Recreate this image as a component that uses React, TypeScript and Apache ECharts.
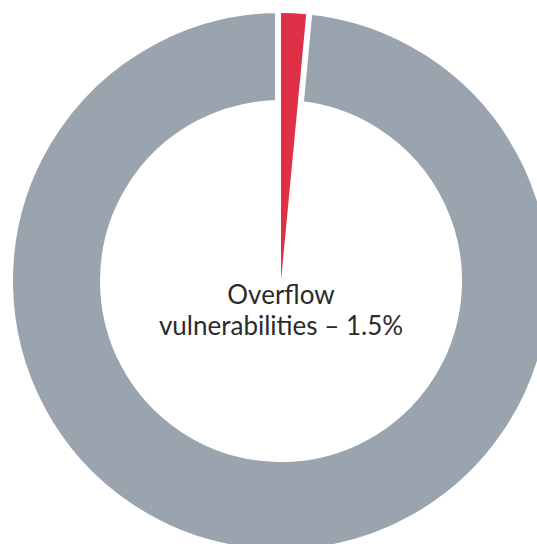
import React, { useEffect, useRef } from "react";
import * as echarts from "echarts";

const categories = ["Overflow vulnerabilities", "Other"];
const values = [1.5, 98.5];
const labelLines = ["Overflow", "vulnerabilities – 1.5%"];

export default function App() {
  const ref = useRef<HTMLDivElement>(null);
  useEffect(() => {
    if (!ref.current) return;
    const chart = echarts.init(ref.current, null, { renderer: "svg" });
    const cx = 281;
    const cy = 281;
    chart.setOption({
      animation: false,
      backgroundColor: "#ffffff",
      series: [
        {
          type: "pie",
          silent: true,
          z: 1,
          center: [cx, cy],
          radius: [175, 274],
          startAngle: 90,
          clockwise: true,
          label: { show: false },
          labelLine: { show: false },
          data: [
            { name: categories[0], value: values[0], itemStyle: { color: "rgba(0,0,0,0)", borderWidth: 0 } },
            { name: categories[1], value: values[1], itemStyle: { color: "#99a4ae", borderColor: "#ffffff", borderWidth: 12 } },
          ],
        },
        {
          type: "pie",
          silent: true,
          z: 2,
          center: [cx, cy],
          radius: [0, 268],
          startAngle: 90,
          clockwise: true,
          label: { show: false },
          labelLine: { show: false },
          data: [
            { name: categories[0], value: values[0], itemStyle: { color: "#e03047", borderWidth: 0 } },
            { name: categories[1], value: values[1], itemStyle: { color: "rgba(0,0,0,0)", borderWidth: 0 } },
          ],
        },
      ],
      graphic: [
        {
          type: "text",
          x: cx,
          y: 309,
          z: 10,
          style: {
            text: labelLines.join("\n"),
            fill: "#2b2b2b",
            font: "26px Lato",
            lineHeight: 31,
            textAlign: "center",
            textVerticalAlign: "middle",
          },
        },
      ],
    });
    return () => chart.dispose();
  }, []);
  return (
    <div
      ref={ref}
      style={{ position: "fixed", left: 0, top: 0, width: 537, height: 544 }}
    />
  );
}
